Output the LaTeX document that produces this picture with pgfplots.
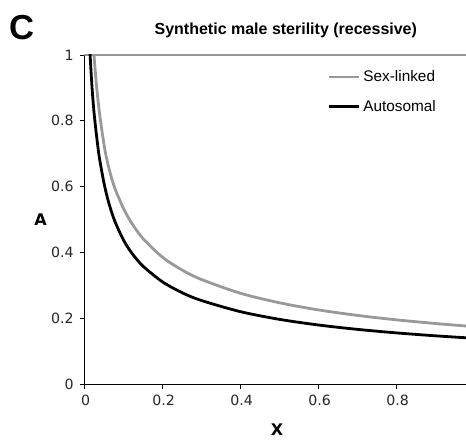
\documentclass[border=0pt]{standalone}
\usepackage{pgfplots}
\pgfplotsset{compat=1.18}
\usepackage{fontspec}
\setmainfont{Liberation Sans}
\newfontfamily\dejavu{DejaVu Sans}
\newcommand{\tl}[1]{{\dejavu\fontsize{10.6}{12}\selectfont #1}}
\definecolor{sexgray}{RGB}{153,153,153}
\definecolor{bordergray}{RGB}{150,150,150}
\begin{document}
\begin{tikzpicture}
\begin{axis}[
  scale only axis,
  width=286.3pt, height=246.75pt,
  xmin=0, xmax=0.979, ymin=0, ymax=1,
  axis x line*=bottom, axis y line*=left,
  axis line style={line width=0.75pt, black},
  xtick={0,0.2,0.4,0.6,0.8},
  ytick={0,0.2,0.4,0.6,0.8,1},
  xticklabels={\tl{0},\tl{0.2},\tl{0.4},\tl{0.6},\tl{0.8}},
  yticklabels={\tl{0},\tl{0.2},\tl{0.4},\tl{0.6},\tl{0.8},\tl{1}},
  /pgf/number format/assume math mode=true,
  tick align=outside,
  major tick length=3.4pt,
  tick style={line width=0.6pt, black},
  tick label style={text=black!85},
  yticklabel style={xshift=-1pt},
  xticklabel style={yshift=-1pt, xshift=1pt},
  title={\bfseries Synthetic male sterility (recessive)},
  title style={at={(axis description cs:0.528,1.0517)}, anchor=center, font=\fontsize{12}{14}\selectfont},
  xlabel={\dejavu\bfseries\fontsize{12}{14}\selectfont X},
  xlabel style={at={(axis description cs:0.505,-0.1398)}, anchor=center},
  ylabel={\dejavu\bfseries\fontsize{12}{14}\selectfont A},
  ylabel style={at={(axis description cs:-0.1142,0.498)}, rotate=-90, anchor=center},
  legend style={draw=none, fill=none, at={(rel axis cs:0.636,0.962)}, anchor=north west,
    inner sep=0pt, font=\fontsize{11.5}{13}\selectfont, row sep=8.5pt,
    legend cell align=left},
  legend image code/.code={\draw[#1, line width=2.1pt] (0pt,0pt) -- (23pt,0pt);},
  clip=true,
]
\coordinate (bl) at (rel axis cs:0,0);
\coordinate (tr) at (rel axis cs:1,1);
\draw[bordergray, line width=0.8pt] (rel axis cs:0,1) -- (rel axis cs:1,1);
\addplot[sexgray, line width=2.1pt, smooth] coordinates {
(0.0235,1.05) (0.025,1.0) (0.03,0.925) (0.035,0.865) (0.04,0.815) (0.045,0.772) (0.053,0.711)
(0.06,0.672) (0.07,0.626) (0.08,0.590) (0.1,0.535) (0.12,0.492) (0.15,0.443)
(0.2,0.386) (0.25,0.347) (0.3,0.318) (0.4,0.276) (0.5,0.247) (0.6,0.2253)
(0.7,0.2086) (0.8,0.1951) (0.9,0.1839) (0.979,0.1763)
};
\addlegendentry{Sex-linked}
\addplot[black, line width=2.1pt, smooth] coordinates {
(0.0138,1.05) (0.015,1.0) (0.02,0.90) (0.025,0.826) (0.03,0.770) (0.036,0.711) (0.04,0.679)
(0.05,0.614) (0.06,0.563) (0.07,0.523) (0.08,0.490) (0.1,0.439) (0.12,0.401)
(0.15,0.359) (0.2,0.311) (0.25,0.278) (0.3,0.254) (0.4,0.220) (0.5,0.1966)
(0.6,0.1794) (0.7,0.1661) (0.8,0.1554) (0.9,0.1465) (0.979,0.1405)
};
\addlegendentry{Autosomal}
\end{axis}
\node[font=\bfseries\fontsize{26}{28}\selectfont, anchor=center] at ([shift={(-46.4pt,20.6pt)}]tr -| bl) {C};
\pgfresetboundingbox
\path ([shift={(-63.2pt,-42.75pt)}]bl) rectangle ([shift={(0pt,41.25pt)}]tr);
\end{tikzpicture}
\end{document}
